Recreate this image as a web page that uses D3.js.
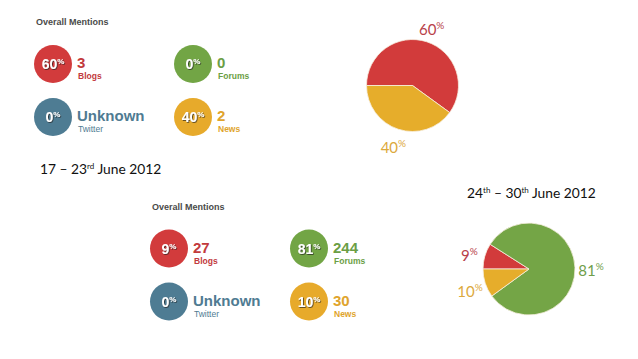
<!DOCTYPE html>
<html>
<head>
    <title>Overall Mentions</title>
    <script src="https://d3js.org/d3.v7.min.js"></script>
    <style>
        body { margin: 0; background: #fff; }
        svg { display: block; }
    </style>
</head>
<body>
<script>
    // categories in the grid order (col, row)
    const categories = ["Blogs", "Forums", "Twitter", "News"];
    const catColors = {Blogs: "#d23b3c", Forums: "#72a545", Twitter: "#4e7c93", News: "#e7aa2b"};
    const textColors = {Blogs: "#c23a3c", Forums: "#6b9e45", Twitter: "#4f7b92", News: "#e0a42c"};
    const gridCol = [0, 1, 0, 1];
    const gridRow = [0, 0, 1, 1];

    // week 1: 17 - 23rd June 2012
    const week1Pct = [60, 0, 0, 40];
    const week1Count = ["3", "0", "Unknown", "2"];
    // week 2: 24th - 30th June 2012
    const week2Pct = [9, 81, 0, 10];
    const week2Count = ["27", "244", "Unknown", "30"];

    // pies (Blogs, Forums, News), start at 9 o'clock
    const pieCats = ["Blogs", "Forums", "News"];
    const pie1Values = [60, 0, 40];
    const pie2Values = [9, 81, 10];
    const pieColors = {Blogs: "#d23b3b", Forums: "#74a546", News: "#e6ad2b"};
    const pieLabelColors = {Blogs: "#b8414a", Forums: "#6f9e4b", News: "#dca93c"};

    const width = 638, height = 359;

    const svg = d3.select("body").append("svg")
        .attr("width", width)
        .attr("height", height);

    const defs = svg.append("defs");
    defs.append("filter").attr("id", "shadow")
        .attr("x", "-20%").attr("y", "-20%").attr("width", "140%").attr("height", "140%")
        .append("feDropShadow")
        .attr("dx", 0.8).attr("dy", 0.8).attr("stdDeviation", 0.4)
        .attr("flood-color", "#222").attr("flood-opacity", 0.8);

    const xCol = d3.scalePoint().domain([0, 1]).range([0, 140]);
    const yRow = d3.scalePoint().domain([0, 1]).range([0, 53]);
    const r = 19;

    function drawPanel(ox, oy, pcts, counts) {
        const g = svg.append("g").attr("transform", `translate(${ox},${oy})`);
        g.append("text")
            .attr("x", 0).attr("y", 25)
            .style("font-family", "'Liberation Sans', Arial, sans-serif")
            .style("font-weight", "bold")
            .style("font-size", "9px")
            .style("fill", "#4a4a4a")
            .text("Overall Mentions");

        const items = categories.map((c, i) => ({
            cat: c, pct: pcts[i], count: counts[i], col: gridCol[i], row: gridRow[i]
        }));

        const cell = g.selectAll(".cell").data(items).join("g")
            .attr("class", "cell")
            .attr("transform", d => `translate(${17 + xCol(d.col)},${64 + yRow(d.row)})`);

        cell.append("circle")
            .attr("r", r)
            .style("fill", d => catColors[d.cat]);

        const pt = cell.append("text")
            .attr("text-anchor", "middle")
            .attr("y", 5)
            .attr("filter", "url(#shadow)")
            .style("font-family", "'Liberation Sans', Arial, sans-serif")
            .style("font-weight", "bold")
            .style("fill", "#fff");
        pt.append("tspan").style("font-size", "14px").text(d => d.pct);
        pt.append("tspan").style("font-size", "8px").attr("dy", -5).text("%");

        cell.append("text")
            .attr("x", 24).attr("y", 4)
            .style("font-family", "'Liberation Sans', Arial, sans-serif")
            .style("font-weight", "bold")
            .style("font-size", "15px")
            .style("fill", d => textColors[d.cat])
            .text(d => d.count);

        cell.append("text")
            .attr("x", 25).attr("y", 15)
            .style("font-family", "'Liberation Sans', Arial, sans-serif")
            .style("font-weight", d => d.cat === "Twitter" ? "normal" : "bold")
            .style("font-size", "8.5px")
            .style("fill", d => textColors[d.cat])
            .text(d => d.cat);
    }

    drawPanel(36, 0, week1Pct, week1Count);
    drawPanel(152, 184.5, week2Pct, week2Count);

    const pie = d3.pie().value(d => d.value).sort(null)
        .startAngle(-Math.PI / 2).endAngle(3 * Math.PI / 2);
    const pieR = 46;
    const arc = d3.arc().innerRadius(0).outerRadius(pieR);
    const labelArc = d3.arc().innerRadius(62).outerRadius(62);

    function drawPie(cx, cy, values) {
        const data = pie(pieCats.map((c, i) => ({cat: c, value: values[i]})));
        const g = svg.append("g").attr("transform", `translate(${cx},${cy})`);
        g.selectAll("path").data(data.filter(d => d.value > 0)).join("path")
            .attr("d", arc)
            .style("fill", d => pieColors[d.data.cat])
            .style("stroke", "#f6efe0")
            .style("stroke-width", 0.8);

        const lab = g.selectAll(".plabel").data(data.filter(d => d.value > 0)).join("text")
            .attr("class", "plabel")
            .attr("transform", d => `translate(${labelArc.centroid(d)})`)
            .attr("text-anchor", "middle")
            .attr("dy", "0.55em")
            .style("font-family", "Lato, Carlito, sans-serif")
            .style("fill", d => pieLabelColors[d.data.cat]);
        lab.append("tspan").style("font-size", "15px").text(d => d.data.value);
        lab.append("tspan").style("font-size", "10px").attr("dy", -6).text("%");
    }

    drawPie(412.5, 85.5, pie1Values);
    drawPie(529, 269, pie2Values);

    // week titles
    function drawTitle(x, y, parts) {
        const t = svg.append("text")
            .attr("x", x).attr("y", y)
            .style("font-family", "Lato, Carlito, sans-serif")
            .style("font-size", "13.8px")
            .style("fill", "#111");
        parts.forEach(p => {
            const s = t.append("tspan").text(p.text);
            if (p.sup) s.style("font-size", "8px").attr("dy", -5);
            else if (p.after) s.attr("dy", 5);
        });
    }

    drawTitle(40, 174, [
        {text: "17 \u2013 23"}, {text: "rd", sup: true}, {text: " June 2012", after: true}
    ]);
    drawTitle(467, 198, [
        {text: "24"}, {text: "th", sup: true}, {text: " \u2013 30", after: true},
        {text: "th", sup: true}, {text: " June 2012", after: true}
    ]);
</script>
</body>
</html>
